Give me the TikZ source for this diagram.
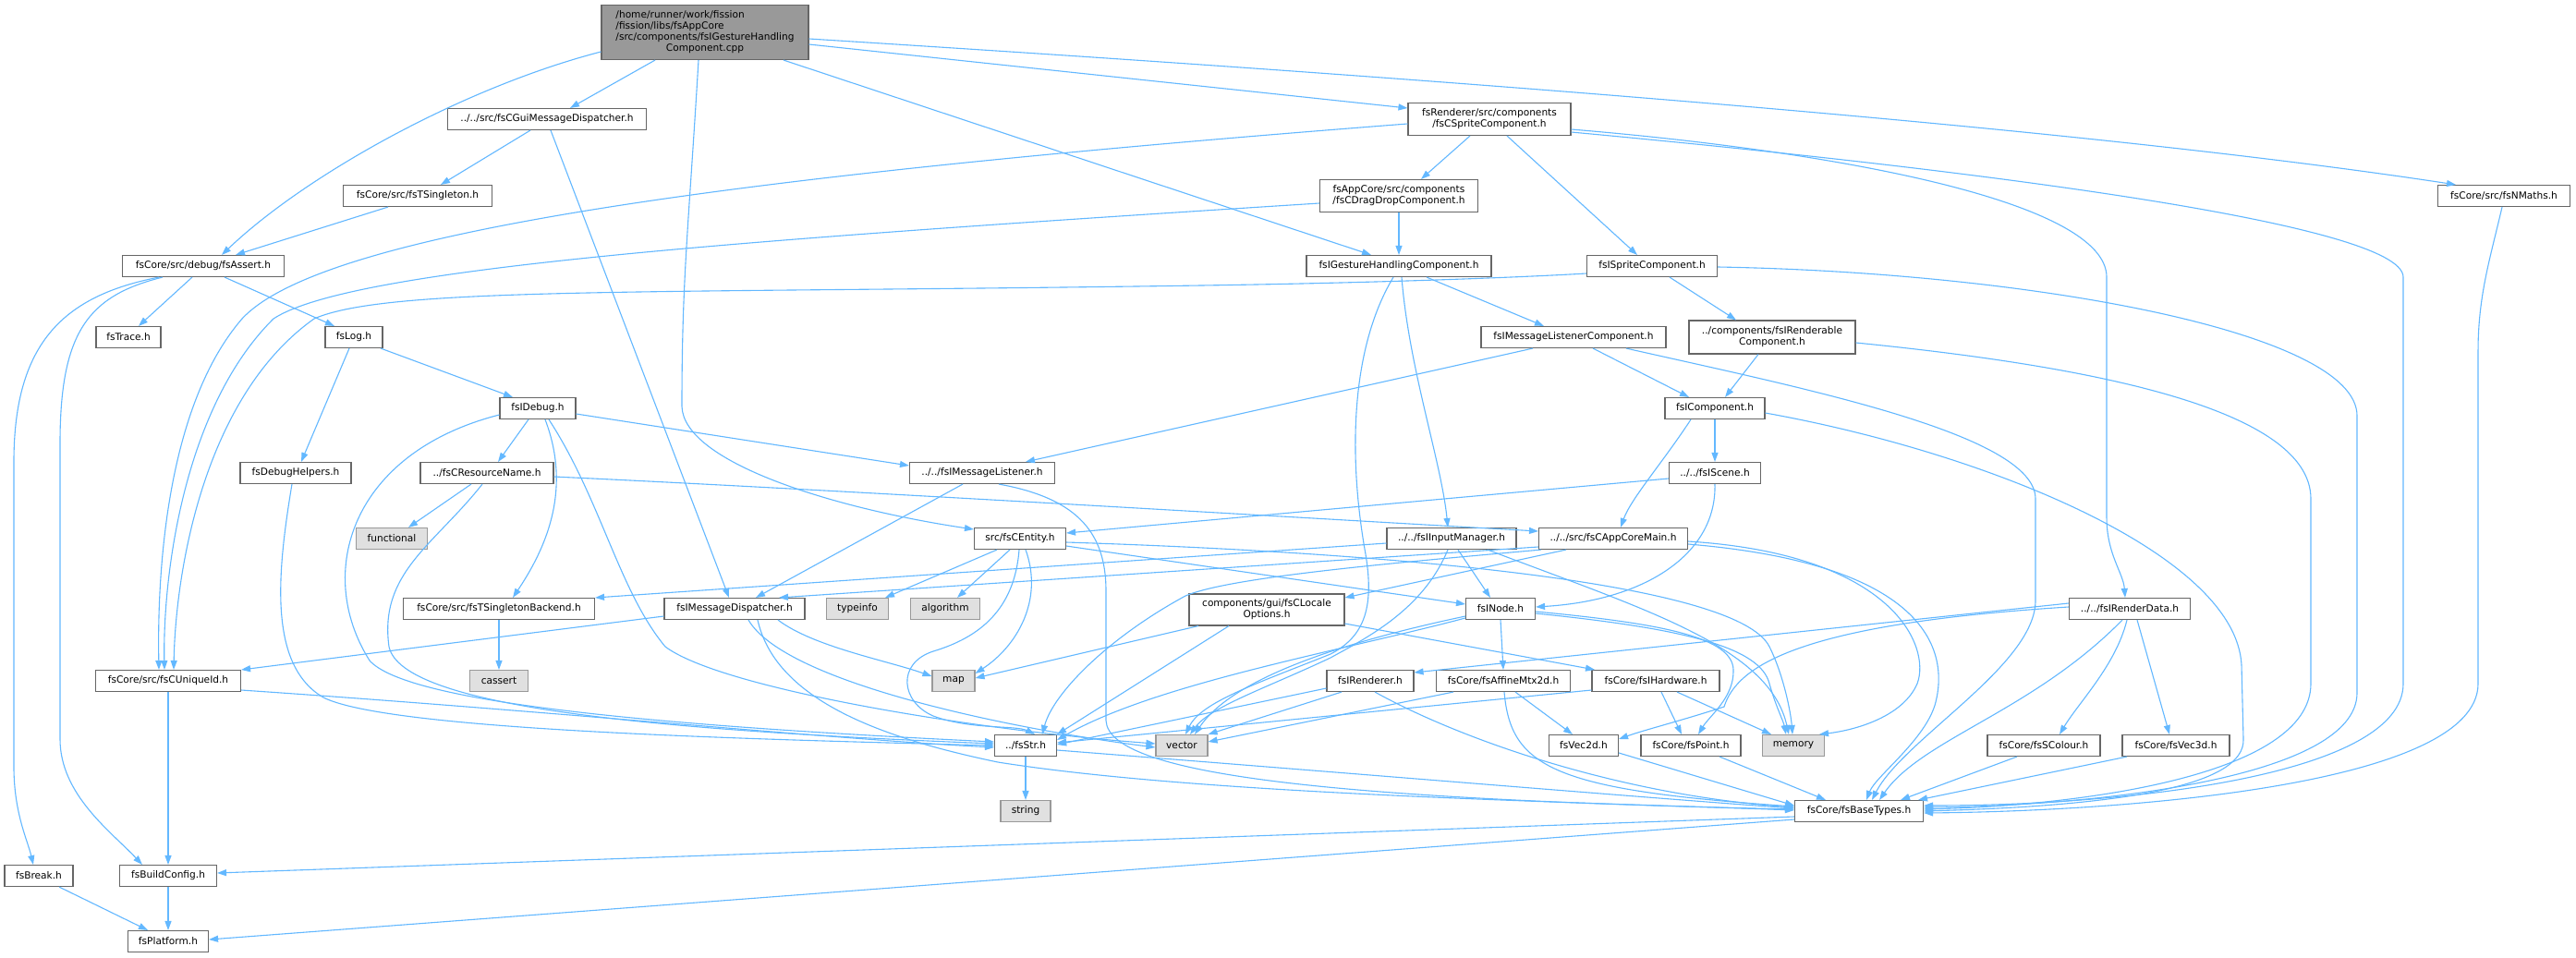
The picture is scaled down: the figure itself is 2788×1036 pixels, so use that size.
\documentclass[tikz,border=0pt]{standalone}
\usepackage{fontspec}
\setmainfont{DejaVu Sans}
\usetikzlibrary{arrows.meta}
\definecolor{edgec}{HTML}{63B8FF}
\definecolor{nodeb}{HTML}{666666}
\definecolor{grayb}{HTML}{999999}
\definecolor{grayf}{HTML}{E0E0E0}
\definecolor{mainf}{HTML}{999999}
\newcommand{\dxfont}{\fontsize{10.6}{12}\selectfont}
\begin{document}
\begin{tikzpicture}[x=1pt,y=-1pt,
  nd/.style={draw=nodeb, fill=white, line width=1.1pt, inner sep=0pt, minimum height=23pt, align=center, font=\dxfont},
  gn/.style={nd, fill=grayf, draw=grayb},
  lnk/.style={draw=edgec, line width=1.1pt, -{Triangle[length=10pt,width=7pt]}},
]
\fill[white] (0,0) rectangle (2788,1036);
\useasboundingbox (0,0) rectangle (2788,1036);

% nodes
\node[nd, fill=mainf, minimum width=224pt, minimum height=59pt] (main) at (763,35) {\begin{tabular}{@{}l@{}}/home/runner/work/fission\\/fission/libs/fsAppCore\\/src/components/fsIGestureHandling\\\multicolumn{1}{@{}c@{}}{Component.cpp}\end{tabular}};
\node[nd, minimum width=215pt] (gmd) at (592,129) {../../src/fsCGuiMessageDispatcher.h};
\node[nd, minimum width=176pt, minimum height=35pt] (csprite) at (1612,129) {fsRenderer/src/components\\/fsCSpriteComponent.h};
\node[nd, minimum width=161pt] (tsing) at (452,212) {fsCore/src/fsTSingleton.h};
\node[nd, minimum width=171pt, minimum height=35pt] (dragdrop) at (1514,212) {fsAppCore/src/components\\/fsCDragDropComponent.h};
\node[nd, minimum width=143pt] (nmaths) at (2710,212) {fsCore/src/fsNMaths.h};
\node[nd, minimum width=175pt] (assert) at (220,288) {fsCore/src/debug/fsAssert.h};
\node[nd, minimum width=200pt] (gesture) at (1514,288) {fsIGestureHandlingComponent.h};
\node[nd, minimum width=141pt] (isprite) at (1788,288) {fsISpriteComponent.h};
\node[nd, minimum width=70pt] (trace) at (139,365) {fsTrace.h};
\node[nd, minimum width=62pt] (log) at (383,365) {fsLog.h};
\node[nd, minimum width=200pt] (imlc) at (1703,365) {fsIMessageListenerComponent.h};
\node[nd, minimum width=180pt, minimum height=36pt] (irenderable) at (1918,365) {../components/fsIRenderable\\Component.h};
\node[nd, minimum width=82pt] (idebug) at (582,442) {fsIDebug.h};
\node[nd, minimum width=108pt] (icomp) at (1856,442) {fsIComponent.h};
\node[nd, minimum width=120pt] (dbghelp) at (320,512) {fsDebugHelpers.h};
\node[nd, minimum width=144pt] (resname) at (527,512) {../fsCResourceName.h};
\node[nd, minimum width=157pt] (imlistener) at (1063,512) {../../fsIMessageListener.h};
\node[nd, minimum width=99pt] (iscene) at (1856,512) {../../fsIScene.h};
\node[gn, minimum width=77pt] (functional) at (424,583) {functional};
\node[nd, minimum width=99pt] (centity) at (1104,583) {src/fsCEntity.h};
\node[nd, minimum width=140pt] (iinput) at (1571,583) {../../fsIInputManager.h};
\node[nd, minimum width=161pt] (appcore) at (1746,583) {../../src/fsCAppCoreMain.h};
\node[nd, minimum width=207pt] (tsback) at (540,659) {fsCore/src/fsTSingletonBackend.h};
\node[nd, minimum width=152pt] (imd) at (795,659) {fsIMessageDispatcher.h};
\node[gn, minimum width=67pt] (typeinfo) at (928,659) {typeinfo};
\node[gn, minimum width=75pt] (algorithm) at (1023,659) {algorithm};
\node[nd, minimum width=168pt, minimum height=34pt] (locale) at (1371,660) {components/gui/fsCLocale\\Options.h};
\node[nd, minimum width=75pt] (inode) at (1624,659) {fsINode.h};
\node[nd, minimum width=131pt] (irenderdata) at (2305,659) {../../fsIRenderData.h};
\node[nd, minimum width=157pt] (cuniq) at (182,737) {fsCore/src/fsCUniqueId.h};
\node[gn, minimum width=63pt] (cassert) at (540,737) {cassert};
\node[gn, minimum width=46pt] (map) at (1032,737) {map};
\node[nd, minimum width=94pt] (irenderer) at (1483,737) {fsIRenderer.h};
\node[nd, minimum width=145pt] (affine) at (1627,737) {fsCore/fsAffineMtx2d.h};
\node[nd, minimum width=138pt] (ihardware) at (1792,737) {fsCore/fsIHardware.h};
\node[nd, minimum width=67pt] (fsstr) at (1110,807) {../fsStr.h};
\node[gn, minimum width=56pt] (vector) at (1279,807) {vector};
\node[nd, minimum width=75pt] (vec2d) at (1714,807) {fsVec2d.h};
\node[nd, minimum width=108pt] (point) at (1830,807) {fsCore/fsPoint.h};
\node[gn, minimum width=67pt] (memory) at (1941,807) {memory};
\node[nd, minimum width=122pt] (scolour) at (2212,807) {fsCore/fsSColour.h};
\node[nd, minimum width=116pt] (vec3d) at (2355,807) {fsCore/fsVec3d.h};
\node[gn, minimum width=54pt] (string) at (1110,878) {string};
\node[nd, minimum width=139pt] (basetypes) at (2012,878) {fsCore/fsBaseTypes.h};
\node[nd, minimum width=74pt] (break) at (42,948) {fsBreak.h};
\node[nd, minimum width=105pt] (buildcfg) at (182,948) {fsBuildConfig.h};
\node[nd, minimum width=87pt] (platform) at (182,1019) {fsPlatform.h};

% edges from main
\draw[lnk] ([yshift=-21pt]main.west) .. controls (500,95) and (330,190) .. ([xshift=20pt]assert.north);
\draw[lnk] ([xshift=-54pt]main.south) -- ([xshift=25pt]gmd.north);
\draw[lnk] ([xshift=-7pt]main.south) .. controls (745,250) and (738,300) .. (738,440) .. controls (740,500) and (900,550) .. ([yshift=10pt]centity.west);
\draw[lnk] ([xshift=85pt]main.south) -- ([xshift=-30pt]gesture.north);
\draw[lnk] ([yshift=-13pt]main.east) -- ([yshift=12pt]csprite.west);
\draw[lnk] ([yshift=-7pt]main.east) .. controls (1400,75) and (2200,130) .. ([xshift=-52pt]nmaths.north);

% gmd, tsing
\draw[lnk] ([xshift=-18pt]gmd.south) -- ([xshift=25pt]tsing.north);
\draw[lnk] ([xshift=4pt]gmd.south) -- ([xshift=-6pt]imd.north);
\draw[lnk] ([xshift=-32pt]tsing.south) -- ([xshift=35pt]assert.north);

% csprite
\draw[lnk] ([xshift=-21pt]csprite.south) -- ([xshift=24pt]dragdrop.north);
\draw[lnk] ([xshift=19pt]csprite.south) -- ([xshift=-16pt]isprite.north);
\draw[lnk] ([yshift=-5pt]csprite.west) .. controls (800,190) and (350,250) .. (262,345) .. controls (180,440) and (170,620) .. ([xshift=-10pt]cuniq.north);
\draw[lnk] ([yshift=-11pt]csprite.east) .. controls (2000,165) and (2280,220) .. (2280,300) -- (2280,560) .. controls (2280,600) and (2298,620) .. ([xshift=-5pt]irenderdata.north);
\draw[lnk] ([yshift=-14pt]csprite.east) .. controls (2100,180) and (2601,240) .. (2601,300) -- (2601,740) .. controls (2601,840) and (2300,872) .. ([yshift=6pt]basetypes.east);

% dragdrop
\draw[lnk] (dragdrop.south) -- (gesture.north);
\draw[lnk] ([yshift=-8pt]dragdrop.west) .. controls (800,260) and (380,290) .. (296,345) .. controls (200,440) and (176,620) .. ([xshift=-4pt]cuniq.north);

% gesture
\draw[lnk] ([xshift=30pt]gesture.south) -- ([xshift=-32pt]imlc.north);
\draw[lnk] ([xshift=3pt]gesture.south) .. controls (1525,400) and (1560,500) .. ([xshift=-4pt]iinput.north);
\draw[lnk] ([xshift=-6pt]gesture.south) .. controls (1460,380) and (1460,500) .. (1478,600) .. controls (1488,660) and (1475,690) .. (1440,708) .. controls (1360,740) and (1300,760) .. ([xshift=4pt]vector.north);

% isprite
\draw[lnk] ([xshift=19pt]isprite.south) -- ([xshift=-39pt]irenderable.north);
\draw[lnk] ([yshift=-8pt]isprite.west) .. controls (1650,300) and (1500,306) .. (1300,309) .. controls (700,318) and (420,310) .. (340,345) .. controls (220,430) and (190,620) .. ([xshift=6pt]cuniq.north);
\draw[lnk] ([yshift=-1pt]isprite.east) .. controls (2200,295) and (2551,360) .. (2551,450) -- (2551,750) .. controls (2551,845) and (2250,873) .. ([yshift=4pt]basetypes.east);

% nmaths
\draw[lnk] ([xshift=-2pt]nmaths.south) .. controls (2695,280) and (2682,320) .. (2682,380) -- (2682,740) .. controls (2682,850) and (2300,878) .. ([yshift=-2pt]basetypes.east);

% assert
\draw[lnk] ([xshift=-12pt]assert.south) -- ([xshift=11pt]trace.north);
\draw[lnk] ([xshift=23pt]assert.south) -- ([xshift=-21pt]log.north);
\draw[lnk] ([xshift=-48pt]assert.south) .. controls (70,320) and (15,370) .. (15,500) -- (15,830) .. controls (15,880) and (30,910) .. ([xshift=-6pt]break.north);
\draw[lnk] ([xshift=-44pt]assert.south) .. controls (95,320) and (65,360) .. (65,480) -- (65,800) .. controls (65,860) and (120,900) .. ([xshift=-28pt]buildcfg.north);

% log
\draw[lnk] ([xshift=29pt]log.south) -- ([xshift=-27pt]idebug.north);
\draw[lnk] ([xshift=-5pt]log.south) -- ([xshift=6pt]dbghelp.north);

% imlc
\draw[lnk] ([xshift=-44pt]imlc.south) -- ([xshift=47pt]imlistener.north);
\draw[lnk] ([xshift=21pt]imlc.south) -- ([xshift=-28pt]icomp.north);
\draw[lnk] ([xshift=57pt]imlc.south) .. controls (1950,420) and (2203,470) .. (2203,540) -- (2203,650) .. controls (2203,720) and (2060,800) .. ([xshift=14pt]basetypes.north);

% irenderable
\draw[lnk] ([xshift=-15pt]irenderable.south) -- ([xshift=11pt]icomp.north);
\draw[lnk] ([yshift=-6pt]irenderable.east) .. controls (2250,395) and (2501,440) .. (2501,540) -- (2501,740) .. controls (2501,840) and (2250,872) .. ([yshift=2pt]basetypes.east);

% idebug
\draw[lnk] ([xshift=-10pt]idebug.south) -- ([xshift=12pt]resname.north);
\draw[lnk] ([xshift=8pt]idebug.south) .. controls (615,520) and (600,580) .. ([xshift=15pt]tsback.north);
\draw[lnk] ([yshift=-6pt]idebug.east) -- ([yshift=8pt]imlistener.west);
\draw[lnk] ([yshift=-7pt]idebug.west) .. controls (380,490) and (340,620) .. (400,715) .. controls (440,760) and (700,785) .. ([yshift=4pt]fsstr.west);
\draw[lnk] ([xshift=12pt]idebug.south) .. controls (650,540) and (670,640) .. (720,700) .. controls (780,745) and (1050,790) .. ([yshift=2pt]vector.west);

% icomp
\draw[lnk] ([xshift=-26pt]icomp.south) .. controls (1800,500) and (1765,540) .. ([xshift=8pt]appcore.north);
\draw[lnk] (icomp.south) -- (iscene.north);
\draw[lnk] ([yshift=-5pt]icomp.east) .. controls (2150,490) and (2420,600) .. (2426,720) -- (2428,800) .. controls (2430,850) and (2300,872) .. ([yshift=0pt]basetypes.east);

% dbghelp, resname
\draw[lnk] ([xshift=-4pt]dbghelp.south) .. controls (300,620) and (290,720) .. (350,755) .. controls (420,790) and (800,800) .. (fsstr.west);
\draw[lnk] ([xshift=-17pt]resname.south) -- ([xshift=18pt]functional.north);
\draw[lnk] ([yshift=-4pt]resname.east) .. controls (900,530) and (1400,560) .. ([yshift=8pt]appcore.west);
\draw[lnk] ([xshift=-5pt]resname.south) .. controls (470,590) and (410,620) .. (421,700) .. controls (435,765) and (700,790) .. ([yshift=2pt]fsstr.west);

% imlistener
\draw[lnk] ([xshift=-21pt]imlistener.south) -- ([xshift=23pt]imd.north);
\draw[lnk] ([xshift=18pt]imlistener.south) .. controls (1170,540) and (1197,580) .. (1197,640) -- (1197,780) .. controls (1200,840) and (1450,865) .. ([yshift=2pt]basetypes.west);

% iscene
\draw[lnk] ([yshift=-6pt]iscene.west) -- ([yshift=6pt]centity.east);
\draw[lnk] (iscene.south) .. controls (1858,600) and (1780,650) .. ([yshift=2pt]inode.east);

% centity
\draw[lnk] ([xshift=-25pt]centity.south) -- ([xshift=30pt]typeinfo.north);
\draw[lnk] ([xshift=-11pt]centity.south) -- ([xshift=13pt]algorithm.north);
\draw[lnk] ([xshift=6pt]centity.south) .. controls (1130,650) and (1100,700) .. ([yshift=8pt]map.east);
\draw[lnk] ([xshift=-1pt]centity.south) .. controls (1098,660) and (1060,690) .. (1010,705) .. controls (970,718) and (975,760) .. (1010,775) .. controls (1050,790) and (1100,785) .. ([xshift=10pt]fsstr.north);
\draw[lnk] ([yshift=-8pt]centity.east) -- ([yshift=5pt]inode.west);
\draw[lnk] ([yshift=-4pt]centity.east) .. controls (1500,598) and (1880,630) .. (1915,700) .. controls (1930,730) and (1938,770) .. ([xshift=-1pt]memory.north);

% iinput
\draw[lnk] ([yshift=-5pt]iinput.west) -- ([yshift=12pt]tsback.east);
\draw[lnk] ([xshift=7pt]iinput.south) -- ([xshift=-11pt]inode.north);
\draw[lnk] ([xshift=-4pt]iinput.south) .. controls (1540,660) and (1480,690) .. (1440,712) .. controls (1370,745) and (1310,765) .. ([xshift=9pt]vector.north);
\draw[lnk] ([xshift=39pt]iinput.south) .. controls (1780,660) and (1915,700) .. ([xshift=-5pt]memory.north);

% appcore
\draw[lnk] ([xshift=-51pt]appcore.south) -- ([yshift=13pt]locale.east);
\draw[lnk] ([yshift=-9pt]appcore.west) -- ([xshift=48pt]imd.north);
\draw[lnk] ([xshift=-78pt]appcore.south) .. controls (1500,610) and (1330,625) .. (1283,645) .. controls (1200,690) and (1140,750) .. ([xshift=18pt]fsstr.north);
\draw[lnk] ([yshift=-3pt]appcore.east) .. controls (2050,600) and (2090,700) .. (2075,740) .. controls (2060,775) and (2010,790) .. ([xshift=28pt]memory.north);
\draw[lnk] ([yshift=-6pt]appcore.east) .. controls (2080,610) and (2110,700) .. (2095,760) .. controls (2085,800) and (2030,840) .. ([xshift=8pt]basetypes.north);

% tsback, imd
\draw[lnk] (tsback.south) -- (cassert.north);
\draw[lnk] ([yshift=-8pt]imd.west) -- ([yshift=12pt]cuniq.east);
\draw[lnk] ([xshift=47pt]imd.south) .. controls (880,700) and (960,715) .. ([yshift=5pt]map.west);
\draw[lnk] ([xshift=15pt]imd.south) .. controls (850,740) and (1100,790) .. ([yshift=-2pt]vector.west);
\draw[lnk] ([xshift=25pt]imd.south) .. controls (840,760) and (960,800) .. (1080,825) .. controls (1300,860) and (1700,868) .. ([yshift=1pt]basetypes.west);

% locale
\draw[lnk] ([xshift=-74pt]locale.south) -- ([yshift=3pt]map.east);
\draw[lnk] ([xshift=-41pt]locale.south) -- (fsstr.north east);
\draw[lnk] ([yshift=-15pt]locale.east) -- ([xshift=-66pt]ihardware.north);

% inode
\draw[lnk] (inode.south) -- (affine.north);
\draw[lnk] ([yshift=-10pt]inode.west) .. controls (1450,705) and (1250,740) .. ([yshift=6pt]fsstr.east);
\draw[lnk] ([yshift=-8pt]inode.west) .. controls (1430,700) and (1330,740) .. ([xshift=14pt]vector.north);
\draw[lnk] ([yshift=-3pt]inode.east) .. controls (1800,675) and (1875,690) .. (1876,725) .. controls (1877,755) and (1850,775) .. ([xshift=8pt]point.north);
\draw[lnk] ([yshift=-5pt]inode.east) .. controls (1820,680) and (1905,700) .. (1915,740) .. controls (1922,765) and (1930,780) .. ([xshift=-8pt]memory.north);

% irenderdata
\draw[lnk] ([yshift=6pt]irenderdata.west) -- ([yshift=9pt]irenderer.east);
\draw[lnk] ([yshift=2pt]irenderdata.west) .. controls (1950,675) and (1880,720) .. (1866,765) .. controls (1820,780) and (1780,790) .. ([yshift=7pt]vec2d.east);
\draw[lnk] ([xshift=-3pt]irenderdata.south) .. controls (2290,720) and (2250,760) .. ([xshift=17pt]scolour.north);
\draw[lnk] ([xshift=8pt]irenderdata.south) -- ([xshift=-7pt]vec3d.north);
\draw[lnk] ([xshift=-8pt]irenderdata.south) .. controls (2200,770) and (2080,800) .. ([xshift=22pt]basetypes.north);

% cuniq
\draw[lnk] (cuniq.south) -- (buildcfg.north);
\draw[lnk] ([yshift=-10pt]cuniq.east) .. controls (600,770) and (900,800) .. ([yshift=-2pt]fsstr.west);

% irenderer, affine, ihardware
\draw[lnk] ([yshift=-8pt]irenderer.west) -- ([yshift=1pt]fsstr.east);
\draw[lnk] ([xshift=-31pt]irenderer.south) -- (vector.north east);
\draw[lnk] ([xshift=5pt]irenderer.south) .. controls (1580,800) and (1750,860) .. ([yshift=4pt]basetypes.west);
\draw[lnk] ([xshift=13pt]affine.south) -- ([xshift=-12pt]vec2d.north);
\draw[lnk] ([xshift=-54pt]affine.south) -- ([yshift=4pt]vector.east);
\draw[lnk] ([xshift=1pt]affine.south) .. controls (1635,830) and (1680,855) .. ([yshift=5pt]basetypes.west);
\draw[lnk] ([xshift=6pt]ihardware.south) -- ([xshift=-10pt]point.north);
\draw[lnk] ([xshift=23pt]ihardware.south) -- ([xshift=-24pt]memory.north);
\draw[lnk] ([yshift=-10pt]ihardware.west) -- ([yshift=3pt]fsstr.east);

% lower level
\draw[lnk] (fsstr.south) -- (string.north);
\draw[lnk] ([yshift=-5pt]fsstr.east) .. controls (1500,840) and (1800,865) .. ([yshift=3pt]basetypes.west);
\draw[lnk] ([yshift=-8pt]vec2d.east) -- ([yshift=6pt]basetypes.west);
\draw[lnk] ([xshift=31pt]point.south) -- ([xshift=-36pt]basetypes.north);
\draw[lnk] ([xshift=-29pt]scolour.south) -- ([xshift=45pt]basetypes.north);
\draw[lnk] ([xshift=-53pt]vec3d.south) -- ([xshift=64pt]basetypes.north);
\draw[lnk] ([yshift=-6pt]basetypes.west) -- ([yshift=3pt]buildcfg.east);
\draw[lnk] ([yshift=-9pt]basetypes.west) -- ([yshift=2pt]platform.east);
\draw[lnk] ([xshift=22pt]break.south) -- ([xshift=-22pt]platform.north);
\draw[lnk] (buildcfg.south) -- (platform.north);
\end{tikzpicture}
\end{document}
